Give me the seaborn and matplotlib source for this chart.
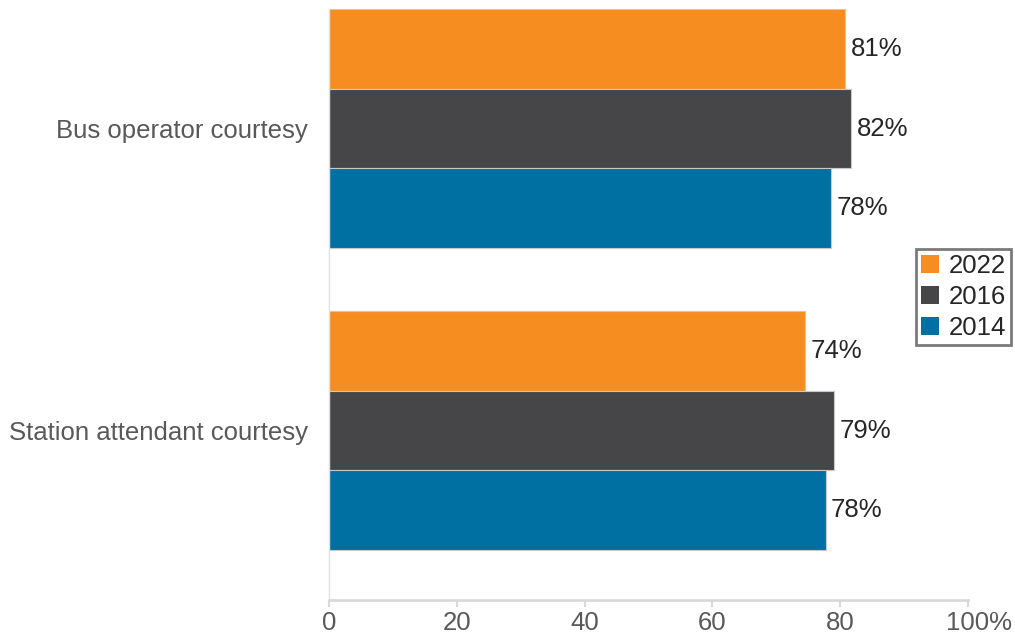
import matplotlib
matplotlib.use("Agg")
import matplotlib.pyplot as plt
import matplotlib.transforms as mtransforms
import seaborn as sns
import pandas as pd

categories = ["Bus operator courtesy", "Station attendant courtesy"]
years = ["2022", "2016", "2014"]
values_2022 = [80.8, 74.5]
values_2016 = [81.7, 79.0]
values_2014 = [78.5, 77.7]
labels_2022 = ["81%", "74%"]
labels_2016 = ["82%", "79%"]
labels_2014 = ["78%", "78%"]
xticks = [0, 20, 40, 60, 80, 100]
xtick_labels = ["0", "20", "40", "60", "80", "100%"]
colors = ["#F68D20", "#464648", "#0070A3"]

sns.set_style("white")
plt.rcParams["font.family"] = ["Liberation Sans", "DejaVu Sans"]

rows = []
for yr, vals, labs in zip(years, [values_2022, values_2016, values_2014],
                          [labels_2022, labels_2016, labels_2014]):
    for c, v, l in zip(categories, vals, labs):
        rows.append({"category": c, "year": yr, "value": v, "label": l})
df = pd.DataFrame(rows)

fig = plt.figure(figsize=(10.15, 6.34), dpi=100)
ax = fig.add_axes([329 / 1015, 34 / 634, 639 / 1015, 591 / 634])

sns.barplot(data=df, y="category", x="value", hue="year", hue_order=years,
            order=categories, palette=colors, saturation=1, orient="h", width=0.79,
            edgecolor="#C8C8C8", linewidth=0.8, ax=ax, legend=True)

for container, yr in zip(ax.containers, years):
    labs = df[df["year"] == yr].set_index("category").loc[categories, "label"].tolist()
    ax.bar_label(container, labels=labs, padding=4, fontsize=18.5, color="#262626")

ax.set_xlim(0, 100)
ax.set_ylim(1.561, -0.396)
ax.set_xticks(xticks)
ax.set_xticklabels(xtick_labels)
ax.set_xlabel("")
ax.set_ylabel("")
ax.tick_params(axis="x", length=5, width=1.5, color="#D9D9D9", labelsize=18.5,
               labelcolor="#595959", pad=3, bottom=True)
ax.tick_params(axis="y", length=0, labelsize=18.5, labelcolor="#595959", pad=15)

# shift the "100%" label so that the number is centred on its tick
last = ax.get_xticklabels()[-1]
last.set_transform(last.get_transform() +
                   mtransforms.ScaledTranslation(11.5 / 100, 0, fig.dpi_scale_trans))

for s in ["top", "right"]:
    ax.spines[s].set_visible(False)
ax.spines["bottom"].set_color("#D9D9D9")
ax.spines["bottom"].set_linewidth(2)
ax.spines["left"].set_color("#E0E0E0")
ax.spines["left"].set_linewidth(1)

leg = ax.legend(loc="upper left", bbox_to_anchor=(0.919, 0.594), borderaxespad=0,
                fontsize=18.5, frameon=True, fancybox=False, handlelength=0.7,
                handleheight=0.7, handletextpad=0.4, labelspacing=0.28,
                borderpad=0.18, title=None)
leg.get_frame().set_edgecolor("#595959")
leg.get_frame().set_linewidth(2)
for t in leg.get_texts():
    t.set_color("#262626")
for h in leg.legend_handles:
    h.set_edgecolor("none")

fig.savefig("out.png", dpi=100, facecolor="white")
